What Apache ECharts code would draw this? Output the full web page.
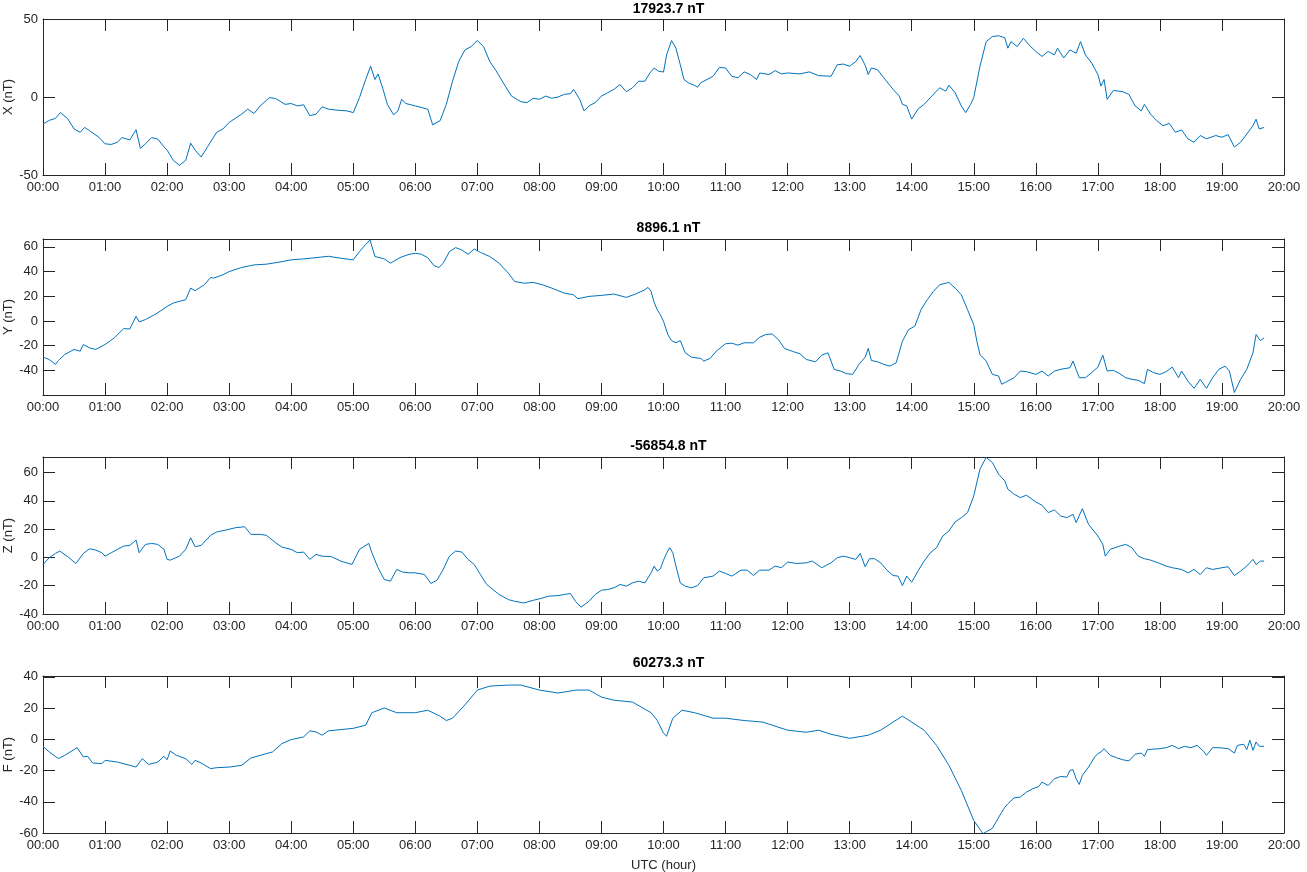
<!DOCTYPE html>
<html>
<head>
<meta charset="utf-8">
<script src="https://cdn.jsdelivr.net/npm/echarts@6/dist/echarts.min.js"></script>
<style>
html,body{margin:0;padding:0;background:#fff;}
#chart{width:1307px;height:872px;}
</style>
</head>
<body>
<div id="chart"></div>
<script>
// ---------- data ----------
const tickLabels = ['00:00','01:00','02:00','03:00','04:00','05:00','06:00','07:00','08:00','09:00','10:00',
  '11:00','12:00','13:00','14:00','15:00','16:00','17:00','18:00','19:00','20:00'];
const panelTitles = ['17923.7 nT','8896.1 nT','-56854.8 nT','60273.3 nT'];
const yNames = ['X (nT)','Y (nT)','Z (nT)','F (nT)'];
const xLabel = 'UTC (hour)';
const yMins = [-50,-60,-40,-60];
const yMaxs = [50,66.4,71,40.5];
const yIntervals = [50,20,20,20];

const xTimes = [0,0.1,0.2,0.28,0.4,0.5,0.6,0.67,0.75,0.9,1.0,1.1,1.2,1.27,1.4,1.5,1.57,1.65,1.75,1.85,1.95,2.0,2.1,2.2,2.3,2.38,2.45,2.55,2.65,2.8,2.9,3.0,3.2,3.3,3.4,3.5,3.65,3.75,3.9,4.0,4.1,4.2,4.3,4.4,4.5,4.6,4.75,4.9,5.0,5.1,5.2,5.28,5.35,5.4,5.48,5.55,5.65,5.72,5.78,5.85,6.0,6.2,6.28,6.4,6.5,6.6,6.7,6.8,6.9,7.0,7.1,7.2,7.3,7.45,7.55,7.7,7.8,7.9,8.0,8.1,8.2,8.3,8.4,8.5,8.55,8.65,8.72,8.8,8.9,9.0,9.1,9.2,9.3,9.4,9.5,9.6,9.7,9.78,9.85,9.92,10.0,10.05,10.13,10.2,10.27,10.33,10.4,10.5,10.55,10.6,10.7,10.8,10.9,11.0,11.1,11.2,11.3,11.4,11.5,11.55,11.7,11.8,11.9,12.0,12.2,12.35,12.5,12.7,12.8,12.9,13.0,13.1,13.17,13.25,13.3,13.35,13.45,13.55,13.7,13.8,13.85,13.92,14.0,14.1,14.2,14.3,14.45,14.55,14.6,14.7,14.8,14.87,14.95,15.0,15.1,15.2,15.3,15.4,15.5,15.55,15.6,15.7,15.8,15.9,16.0,16.1,16.2,16.3,16.35,16.45,16.55,16.65,16.72,16.8,16.9,17.0,17.05,17.1,17.15,17.25,17.4,17.5,17.6,17.7,17.75,17.85,17.95,18.05,18.15,18.25,18.35,18.45,18.55,18.65,18.75,18.9,19.0,19.1,19.2,19.3,19.4,19.5,19.55,19.6,19.68];
const xValues = [-17.3,-15,-13.7,-10,-14,-20.5,-22.6,-19.5,-21.6,-25.8,-30,-30.4,-29,-26,-27.5,-21,-33,-30,-26,-27,-32,-34,-40.6,-43.8,-40.6,-29.6,-34,-38.5,-32,-22.6,-20.5,-16.3,-11,-7.8,-10.6,-5.7,-0.4,-1,-4.7,-4.2,-5.7,-5,-12,-11,-6.3,-7.8,-8.5,-8.9,-10,-0.4,11.2,19.7,11.2,14.8,4.9,-4.7,-11.4,-8.9,-1.5,-4.2,-5.7,-7.8,-17.8,-15.2,-4.7,10.1,22.8,30.2,32.3,36.2,32.3,22.8,16.9,7,0.6,-3,-3.6,-0.8,-1.5,0.6,-0.8,0,1.7,2.1,4.9,-1.5,-8.9,-5.7,-3.6,0.6,2.7,4.9,8,3.4,5.9,10.1,10.1,15.4,18.6,16.5,16,27,36.2,31.3,20.7,11.2,9.1,7.4,6.3,9.1,11.2,13.3,19,18.6,13.3,12.3,16.1,14.4,11.2,15.4,14.4,16.9,14.8,15.4,14.8,16.1,13.7,13.3,20.7,21.1,19.7,22.8,26.6,20.3,14.4,18.6,17.5,12.3,4.9,0.6,-4.7,-5.7,-14.2,-7.8,-4.7,-0.4,5.9,3.8,7.6,2.7,-5.7,-10,-4.7,-0.4,19.7,35.5,38.7,39.3,38,31.3,35.5,32.3,37.6,33,29.2,26,29.2,27,31.3,25,30.2,28,35.5,27,21.8,14.4,7,11.2,-1.5,4.2,3.4,1.7,-5.7,-8.9,-4.7,-11,-15.2,-18.4,-16.9,-22.6,-21.1,-26.8,-29,-24.7,-26.8,-24.7,-25.8,-24.1,-32.1,-29,-23.7,-18.4,-14.2,-20.5,-19.5];

const yTimes = [0,0.1,0.2,0.25,0.35,0.5,0.6,0.65,0.75,0.85,1.0,1.15,1.3,1.4,1.5,1.55,1.65,1.8,1.9,2.0,2.1,2.2,2.3,2.38,2.45,2.6,2.7,2.75,2.9,3.0,3.2,3.4,3.6,3.8,4.0,4.2,4.4,4.6,4.8,5.0,5.1,5.2,5.27,5.35,5.5,5.6,5.75,5.9,6.0,6.1,6.2,6.3,6.38,6.45,6.55,6.65,6.75,6.85,6.95,7.05,7.2,7.35,7.5,7.6,7.75,7.9,8.05,8.2,8.4,8.55,8.62,8.8,9.0,9.2,9.4,9.55,9.7,9.75,9.8,9.85,9.9,9.95,10.0,10.07,10.13,10.2,10.27,10.35,10.45,10.6,10.65,10.75,10.85,11.0,11.1,11.2,11.3,11.45,11.55,11.65,11.75,11.85,11.95,12.1,12.2,12.3,12.45,12.55,12.65,12.75,12.85,12.95,13.05,13.15,13.25,13.3,13.35,13.45,13.55,13.65,13.75,13.85,13.95,14.05,14.15,14.25,14.35,14.45,14.55,14.6,14.7,14.8,14.9,15.0,15.05,15.1,15.2,15.3,15.4,15.45,15.55,15.65,15.75,15.85,16.0,16.1,16.2,16.3,16.4,16.55,16.6,16.7,16.8,16.9,17.0,17.08,17.15,17.25,17.35,17.45,17.55,17.65,17.75,17.8,17.9,18.0,18.1,18.2,18.3,18.35,18.45,18.55,18.65,18.75,18.85,18.95,19.05,19.12,19.2,19.3,19.4,19.5,19.55,19.62,19.68];
const yValues = [-29.3,-31.2,-35.2,-32,-27.2,-23.1,-24.5,-19.1,-21.8,-23.1,-19.1,-13.7,-6.2,-6.5,3.8,-0.8,1.1,5.1,8.3,11.8,14.5,15.9,17.2,26.6,24.5,29.3,35.2,34.7,37.4,40,43.3,45.4,46,47.6,49.5,50.3,51.3,52.4,50.8,49.5,56.2,62,65.6,52.2,50.3,46.8,51.3,54,54.8,54,51.3,44.9,43.3,46.8,56.2,59.4,57.5,54,58.3,55.6,52.2,46.8,38.7,32,30.6,31.2,29.3,26.6,22.6,21.2,18,19.9,20.7,21.8,19.1,21.8,25.3,27.2,23.9,15,9,5,-0.3,-11,-16,-17.7,-15.9,-25.8,-29.3,-30.4,-32.5,-30.4,-24.5,-18.5,-18,-19.6,-17.7,-17.7,-13.2,-11,-10.5,-15,-22.3,-25,-26.6,-31.2,-33.1,-27.7,-25.8,-39.2,-40.6,-42.7,-43.3,-35.2,-29.3,-22.3,-32,-33.1,-35.2,-36.6,-33.9,-16.4,-7,-4.3,9.1,17.2,23.9,29.3,30.6,31.2,26.6,21.2,9.1,-3,-16.4,-27.2,-32.5,-43.3,-44.6,-51.3,-48.7,-46,-40.6,-41.1,-43.3,-40.6,-44.6,-40.6,-39.2,-37.9,-32.5,-46,-46,-41.9,-37.4,-27.7,-40.6,-40,-42.7,-46,-47.3,-48.1,-50.8,-39.2,-41.9,-43.3,-41.1,-37.4,-46,-40.6,-48.7,-54.6,-47.3,-54.6,-46,-39.2,-36.6,-40.6,-58,-47.3,-39.2,-25.8,-11,-15.9,-13.7];

const zTimes = [0,0.1,0.2,0.27,0.4,0.53,0.65,0.75,0.85,0.95,1.0,1.1,1.2,1.3,1.4,1.5,1.55,1.65,1.75,1.85,1.95,2.0,2.05,2.2,2.3,2.38,2.45,2.55,2.7,2.8,2.95,3.1,3.25,3.35,3.5,3.6,3.75,3.85,4.0,4.1,4.2,4.3,4.4,4.5,4.65,4.8,4.98,5.1,5.25,5.3,5.4,5.5,5.6,5.7,5.8,5.9,6.0,6.15,6.25,6.35,6.45,6.55,6.65,6.75,6.85,6.95,7.05,7.15,7.25,7.35,7.5,7.6,7.75,7.9,8.0,8.15,8.3,8.4,8.5,8.58,8.67,8.8,8.9,9.0,9.1,9.2,9.3,9.4,9.5,9.6,9.7,9.8,9.85,9.9,9.95,10.0,10.05,10.1,10.15,10.2,10.27,10.35,10.45,10.55,10.65,10.8,10.9,11.0,11.1,11.25,11.35,11.45,11.55,11.7,11.8,11.9,12.0,12.15,12.3,12.4,12.55,12.7,12.8,12.9,13.0,13.1,13.17,13.25,13.32,13.4,13.5,13.6,13.7,13.78,13.85,13.92,14.0,14.1,14.2,14.3,14.4,14.5,14.6,14.7,14.8,14.9,15.0,15.1,15.2,15.3,15.4,15.5,15.55,15.65,15.75,15.85,16.0,16.1,16.2,16.3,16.4,16.5,16.6,16.65,16.75,16.85,17.0,17.08,17.12,17.2,17.35,17.45,17.55,17.65,17.75,17.85,18.0,18.1,18.2,18.35,18.45,18.55,18.65,18.75,18.85,19.0,19.1,19.2,19.3,19.4,19.5,19.55,19.62,19.68];
const zValues = [-5,-0.2,2.8,4.5,0.5,-4.3,2.8,6.1,5.2,3.3,0.9,3.3,5.7,8,8.5,12.3,3.3,9.2,9.9,9.2,5.7,-1.4,-1.9,0.9,5.7,13.9,7.6,8.5,15.6,18,19.4,21,21.7,16.3,16.3,15.6,10.4,7.3,5.7,3.3,3.8,-1.4,2.1,0.9,0.5,-2.6,-5,5.7,9.9,3.3,-7.3,-15.6,-16.8,-8.5,-10.4,-10.9,-10.9,-12.1,-18.4,-16.1,-8.5,0.9,4.5,3.8,-1.4,-5,-12.1,-19.1,-22.7,-26.2,-29.8,-31,-32.2,-30.3,-29.3,-27.4,-27,-26.2,-25.5,-31,-35.2,-31,-26.2,-23.2,-22.7,-21.5,-19.1,-20.3,-18,-16.8,-18,-10.9,-6.1,-9.7,-8,-2,3,6.9,3.3,-6.1,-18,-20.3,-21.5,-19.9,-14.4,-13.2,-9.7,-11.3,-13.2,-9,-9,-12.8,-9,-9,-6.1,-7.3,-3.3,-4.3,-3.8,-2.6,-7.3,-3.8,-0.2,0.9,-0.2,-1.4,2.8,-6.6,-0.9,-0.9,-3.8,-9,-12.8,-13.2,-19.9,-13.2,-17.5,-9.7,-2.6,3.3,6.9,15.1,18.7,25.1,28.1,31.7,43.5,62.4,70.7,67.1,58.9,54.1,48.2,44.7,42.3,44,39.2,36.9,31.7,33.6,29.3,28.1,30.5,24.6,34.5,23.4,15.1,9.2,0.9,5.7,8,9.2,6.9,0.9,-0.9,-1.9,-4.3,-6.1,-7.3,-8.5,-10.9,-8.5,-12.1,-7.3,-8.5,-7.3,-6.6,-12.8,-9.7,-6.1,-1.4,-5,-2.6,-2.6];

const fTimes = [0,0.1,0.25,0.35,0.5,0.55,0.65,0.72,0.8,0.95,1.0,1.2,1.4,1.5,1.6,1.7,1.85,1.95,2.0,2.05,2.15,2.3,2.4,2.45,2.55,2.7,2.8,3.0,3.2,3.35,3.5,3.7,3.85,4.0,4.2,4.3,4.4,4.5,4.6,5.0,5.2,5.3,5.5,5.7,6.0,6.2,6.4,6.5,6.6,6.8,7.0,7.2,7.5,7.7,8.0,8.3,8.6,8.8,9.0,9.2,9.5,9.8,9.9,10.0,10.05,10.15,10.3,10.5,10.8,11.0,11.3,11.6,12.0,12.3,12.5,12.7,13.0,13.3,13.5,13.7,13.85,14.0,14.2,14.4,14.6,14.8,15.0,15.15,15.3,15.45,15.5,15.55,15.65,15.75,15.85,15.95,16.05,16.1,16.2,16.3,16.4,16.5,16.55,16.6,16.65,16.7,16.75,16.85,16.95,17.0,17.05,17.1,17.2,17.3,17.4,17.5,17.6,17.7,17.75,17.8,18.0,18.1,18.2,18.3,18.4,18.5,18.6,18.7,18.75,18.85,18.95,19.0,19.1,19.2,19.25,19.35,19.4,19.45,19.5,19.55,19.6,19.68];
const fValues = [-4.5,-8.1,-12.4,-10.3,-6.6,-5.4,-11.3,-10.9,-15.2,-15.6,-13.5,-14.6,-16.7,-17.8,-12.4,-16.1,-14.6,-10.9,-13.1,-7.5,-10.3,-12.4,-16.1,-13.5,-15.2,-18.8,-18.2,-17.8,-16.7,-12,-10.3,-8.1,-2.8,-0.2,1.5,5.4,4.7,2.6,5.4,7,9,17,20,17,17,18.6,14.8,12,13.5,22,31.5,34,34.7,34.7,31.5,29.6,31.5,31.5,27,25,23.8,17,12,3.9,2,13.5,18.6,17,13.5,13.5,12,11,5.8,4.5,5.8,3.2,0.6,2.6,5.8,11,14.8,11,5.8,-3.9,-16.7,-32.8,-52,-60.4,-57,-46.7,-43.5,-41.3,-37.5,-37,-33.8,-31.7,-30.2,-27.4,-29.6,-25.3,-23.8,-24.2,-19.9,-19.5,-25.3,-28.9,-23.1,-17.8,-11.3,-9.2,-8.1,-6,-10.3,-11.8,-13.1,-13.9,-9.6,-8.8,-10.9,-6.6,-6,-5.4,-3.9,-6,-4.5,-5.4,-3.9,-7.5,-10.3,-5.4,-5.4,-5.6,-6,-8.8,-3.9,-3.2,-6.6,-0.6,-7.1,-1.7,-4.5,-4.5];

const seriesTimes = [xTimes, yTimes, zTimes, fTimes];
const seriesValues = [xValues, yValues, zValues, fValues];

// ---------- layout ----------
const FONT = "'Liberation Sans', Arial, Helvetica, sans-serif";
const AX = '#262626';
const LINE = '#0072BD';
const gridTops = [19, 239, 457, 676];
const gridHeights = [156, 156, 157, 157];
const gridLeft = 43, gridRight = 23;
const titleTops = [-3, 216, 434, 651];

const grids = [], xAxes = [], yAxes = [], series = [], titles = [];
for (let i = 0; i < 4; i++) {
  grids.push({left: gridLeft, right: gridRight, top: gridTops[i], height: gridHeights[i],
    containLabel: false, outerBoundsMode: 'none'});
  titles.push({text: panelTitles[i], left: 663.5, top: titleTops[i], textAlign: 'center',
    textStyle: {fontFamily: FONT, fontSize: 14, fontWeight: 'bold', color: '#000'}});
  const common = {
    type: 'value', gridIndex: i, min: 0, max: 20, interval: 1,
    axisLine: {show: true, onZero: false, lineStyle: {color: AX, width: 1}},
    axisTick: {show: true, inside: true, length: 12, lineStyle: {color: AX, width: 1}},
    splitLine: {show: false}
  };
  xAxes.push(Object.assign({}, common, {
    position: 'bottom',
    axisLabel: {show: true, margin: 6, color: AX, fontFamily: FONT, fontSize: 13,
      formatter: v => tickLabels[Math.round(v)] || ''},
    name: i === 3 ? xLabel : '', nameLocation: 'middle', nameGap: 26, nameMoveOverlap: false,
    nameTextStyle: {fontFamily: FONT, fontSize: 13, color: AX}
  }));
  xAxes.push(Object.assign({}, common, {position: 'top', axisLabel: {show: false}}));
  const ycommon = {
    type: 'value', gridIndex: i, min: yMins[i], max: yMaxs[i], interval: yIntervals[i],
    axisLine: {show: true, onZero: false, lineStyle: {color: AX, width: 1}},
    axisTick: {show: true, inside: true, length: 12, lineStyle: {color: AX, width: 1}},
    splitLine: {show: false}
  };
  yAxes.push(Object.assign({}, ycommon, {
    position: 'left',
    axisLabel: {show: true, margin: 5, color: AX, fontFamily: FONT, fontSize: 13,
      showMaxLabel: yMaxs[i] % yIntervals[i] === 0, showMinLabel: i !== 1},
    name: yNames[i], nameLocation: 'middle', nameGap: 28, nameRotate: 90, nameMoveOverlap: false,
    nameTextStyle: {fontFamily: FONT, fontSize: 13, color: AX}
  }));
  yAxes.push(Object.assign({}, ycommon, {position: 'right', axisLabel: {show: false}}));
  series.push({
    type: 'line', xAxisIndex: i * 2, yAxisIndex: i * 2,
    data: seriesTimes[i].map((t, k) => [t, seriesValues[i][k]]),
    showSymbol: false, symbol: 'none', animation: false,
    lineStyle: {color: LINE, width: 1}, itemStyle: {color: LINE}
  });
}

const chart = echarts.init(document.getElementById('chart'), null, {renderer: 'canvas'});
chart.setOption({
  backgroundColor: '#fff',
  animation: false,
  title: titles,
  grid: grids,
  xAxis: xAxes,
  yAxis: yAxes,
  series: series
});
</script>
</body>
</html>
